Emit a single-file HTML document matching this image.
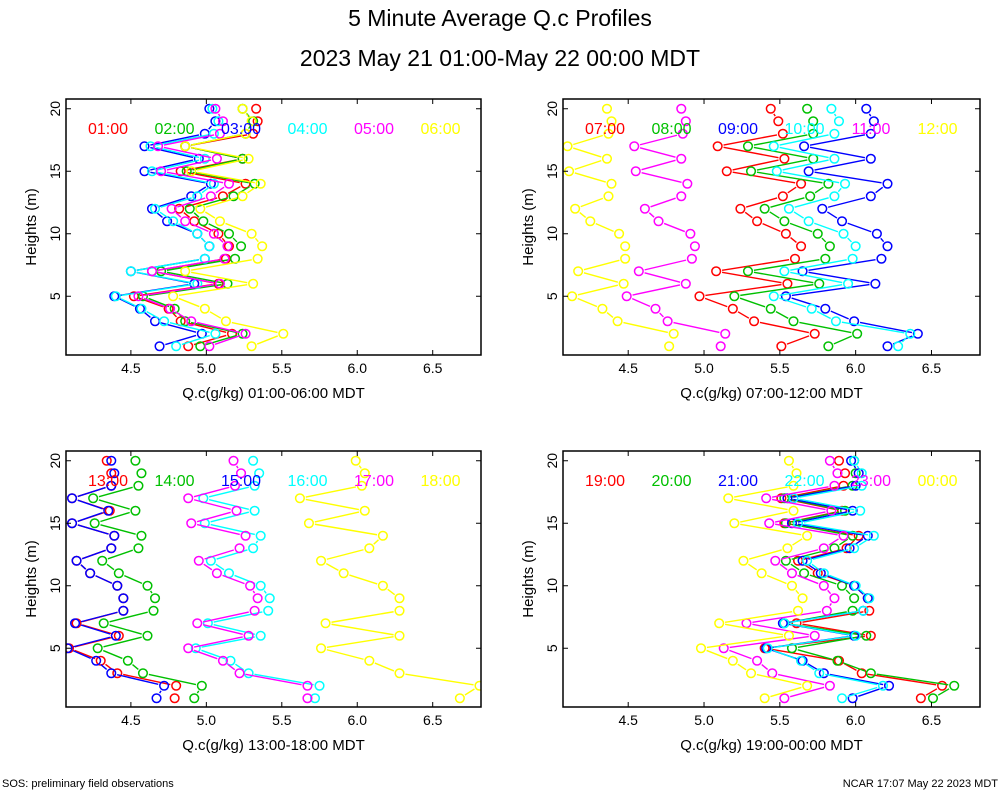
<!DOCTYPE html>
<html><head><meta charset="utf-8"><style>
body{margin:0;background:#fff;width:1000px;height:800px;overflow:hidden;font-family:"Liberation Sans",sans-serif}
svg text{font-family:"Liberation Sans",sans-serif}
</style></head><body>
<svg id="chart" width="1000" height="800" xmlns="http://www.w3.org/2000/svg">
<text x="500" y="26" font-size="23" text-anchor="middle">5 Minute Average Q.c Profiles</text>
<text x="500" y="66" font-size="23" text-anchor="middle">2023 May 21 01:00-May 22 00:00 MDT</text>
<text x="2" y="787" font-size="11">SOS: preliminary field observations</text>
<text x="998" y="787" font-size="11" text-anchor="end">NCAR 17:07 May 22 2023 MDT</text>
</svg>
<script>
const heights=[20,19,18,17,16,15,14,13,12,11,10,9,8,7,6,5,4,3,2,1];
const xTicks=[4.5,5.0,5.5,6.0,6.5];
const yTicks=[5,10,15,20];
const xTickLabels=["4.5","5.0","5.5","6.0","6.5"];
const s0100=[5.33,5.34,5.31,4.86,5.24,4.83,5.26,5.11,4.82,4.92,5.08,5.15,5.13,4.64,5.08,4.52,4.75,4.83,5.17,4.88];
const s0200=[5.24,5.31,5.26,4.86,5.24,4.87,5.32,5.18,4.89,4.98,5.15,5.23,5.19,4.70,5.14,4.58,4.79,4.86,5.24,4.96];
const s0300=[5.02,5.06,4.99,4.59,4.95,4.59,5.03,4.90,4.64,4.74,4.94,5.02,4.99,4.50,4.92,4.39,4.56,4.66,4.97,4.69];
const s0400=[5.04,5.08,5.05,4.63,4.99,4.64,5.05,4.94,4.66,4.78,4.94,5.02,4.99,4.50,4.94,4.40,4.57,4.72,5.06,4.80];
const s0500=[5.06,5.11,5.09,4.68,5.07,4.70,5.15,5.03,4.77,4.86,5.05,5.14,5.12,4.64,5.09,4.55,4.76,4.90,5.26,5.02];
const s0600=[5.24,5.30,5.26,4.86,5.28,4.90,5.36,5.24,4.96,5.09,5.30,5.37,5.34,4.86,5.31,4.78,4.99,5.13,5.51,5.30];
const s0700=[5.44,5.49,5.52,5.09,5.53,5.15,5.64,5.52,5.24,5.35,5.54,5.64,5.60,5.08,5.55,4.97,5.19,5.33,5.73,5.51];
const s0800=[5.68,5.72,5.72,5.29,5.72,5.31,5.82,5.70,5.40,5.53,5.75,5.83,5.80,5.29,5.76,5.20,5.44,5.59,6.01,5.82];
const s0900=[6.07,6.12,6.10,5.66,6.10,5.69,6.21,6.10,5.78,5.91,6.14,6.21,6.17,5.65,6.13,5.54,5.80,5.99,6.41,6.21];
const s1000=[5.84,5.89,5.86,5.46,5.86,5.48,5.93,5.86,5.56,5.69,5.92,6.00,5.98,5.53,5.95,5.46,5.71,5.87,6.36,6.28];
const s1100=[4.85,4.88,4.86,4.54,4.85,4.55,4.89,4.85,4.61,4.70,4.91,4.94,4.92,4.57,4.88,4.49,4.68,4.76,5.14,5.11];
const s1200=[4.36,4.39,4.37,4.10,4.36,4.11,4.39,4.37,4.15,4.25,4.44,4.48,4.48,4.17,4.47,4.13,4.33,4.43,4.80,4.77];
const s1300=[4.34,4.37,4.37,4.11,4.36,4.11,4.39,4.37,4.14,4.23,4.41,4.45,4.45,4.14,4.42,4.09,4.30,4.41,4.80,4.79];
const s1400=[4.53,4.57,4.55,4.25,4.53,4.26,4.57,4.55,4.31,4.42,4.61,4.66,4.65,4.32,4.61,4.28,4.48,4.58,4.97,4.92];
const s1500=[4.37,4.39,4.37,4.11,4.35,4.11,4.39,4.37,4.14,4.23,4.41,4.45,4.45,4.13,4.40,4.08,4.27,4.37,4.72,4.67];
const s1600=[5.31,5.35,5.32,4.98,5.32,4.99,5.36,5.31,5.03,5.15,5.36,5.42,5.41,5.01,5.36,4.93,5.16,5.28,5.75,5.72];
const s1700=[5.18,5.23,5.19,4.88,5.20,4.90,5.26,5.22,4.95,5.07,5.29,5.34,5.32,4.94,5.28,4.88,5.11,5.22,5.67,5.67];
const s1800=[5.99,6.05,6.03,5.62,6.05,5.68,6.17,6.08,5.76,5.91,6.17,6.28,6.28,5.79,6.28,5.76,6.08,6.28,6.81,6.68];
const s1900=[5.89,5.93,5.92,5.51,5.91,5.53,6.02,5.94,5.62,5.75,5.99,6.08,6.09,5.61,6.10,5.40,5.89,6.04,6.57,6.43];
const s2000=[5.99,6.00,5.98,5.53,5.93,5.54,5.98,5.86,5.54,5.66,5.91,5.99,5.98,5.53,6.07,5.58,5.88,6.10,6.65,6.51];
const s2100=[5.97,6.02,6.00,5.55,5.98,5.58,6.08,5.96,5.65,5.77,5.99,6.08,6.05,5.52,5.99,5.41,5.65,5.79,6.22,5.98];
const s2200=[5.99,6.04,6.04,5.59,6.03,5.62,6.12,5.99,5.68,5.79,6.00,6.09,6.05,5.53,6.00,5.42,5.64,5.76,6.18,5.91];
const s2300=[5.83,5.88,5.86,5.41,5.84,5.43,5.92,5.79,5.47,5.58,5.79,5.86,5.81,5.28,5.73,5.13,5.35,5.45,5.83,5.53];
const s0000=[5.56,5.61,5.59,5.16,5.59,5.20,5.68,5.55,5.26,5.38,5.58,5.65,5.62,5.10,5.56,4.98,5.19,5.31,5.68,5.40];
const colors=["#ff0000","#00c000","#0000ff","#00ffff","#ff00ff","#ffff00"];
const panels=[
 {x0:66,x1:481,y0:99,y1:355,title:"Q.c(g/kg) 01:00-06:00 MDT",labels:["01:00","02:00","03:00","04:00","05:00","06:00"],series:[s0100,s0200,s0300,s0400,s0500,s0600]},
 {x0:563,x1:980,y0:99,y1:355,title:"Q.c(g/kg) 07:00-12:00 MDT",labels:["07:00","08:00","09:00","10:00","11:00","12:00"],series:[s0700,s0800,s0900,s1000,s1100,s1200]},
 {x0:66,x1:481,y0:451,y1:707,title:"Q.c(g/kg) 13:00-18:00 MDT",labels:["13:00","14:00","15:00","16:00","17:00","18:00"],series:[s1300,s1400,s1500,s1600,s1700,s1800]},
 {x0:563,x1:980,y0:451,y1:707,title:"Q.c(g/kg) 19:00-00:00 MDT",labels:["19:00","20:00","21:00","22:00","23:00","00:00"],series:[s1900,s2000,s2100,s2200,s2300,s0000]}
];
const NS="http://www.w3.org/2000/svg";
const svg=document.getElementById("chart");
function mk(tag,attrs,parent){const e=document.createElementNS(NS,tag);for(const k in attrs)e.setAttribute(k,attrs[k]);(parent||svg).appendChild(e);return e;}
const XMIN=4.07,XMAX=6.82,YMIN=0.3,YMAX=20.78;
panels.forEach((p,pi)=>{
 const xs=v=>p.x0+(v-XMIN)/(XMAX-XMIN)*(p.x1-p.x0);
 const ys=h=>p.y1-(h-YMIN)/(YMAX-YMIN)*(p.y1-p.y0);
 const g=mk("g",{});
 
 
 const cid="clip"+pi;
 const cp=mk("clipPath",{id:cid},g);
 mk("rect",{x:p.x0,y:p.y0,width:p.x1-p.x0,height:p.y1-p.y0},cp);
 const plot=mk("g",{"clip-path":"url(#"+cid+")"},g);
 p.series.forEach((vals,si)=>{
  const sg=mk("g",{},plot);
  
  
  for(let i=0;i<vals.length-1;i++){
   const ax=xs(vals[i]),ay=ys(heights[i]),bx=xs(vals[i+1]),by=ys(heights[i+1]);
   const dx=bx-ax,dy=by-ay,L=Math.hypot(dx,dy);
   if(L<14)continue;
   const r=6/L;
   const seg=mk("line",{x1:ax+dx*r,y1:ay+dy*r,x2:bx-dx*r,y2:by-dy*r,stroke:colors[si],"stroke-width":1.4},sg);
   
   
  }
  vals.forEach((v,i)=>{
   const c=mk("circle",{cx:xs(v),cy:ys(heights[i]),r:4.3,fill:"none",stroke:colors[si],"stroke-width":1.5},sg);
   
   
  });
 });
 const fr=mk("rect",{x:p.x0,y:p.y0,width:p.x1-p.x0,height:p.y1-p.y0,fill:"none",stroke:"#000","stroke-width":1.5},g);
 
 
 xTicks.forEach((t,i)=>{
  const x=xs(t);
  mk("line",{x1:x,x2:x,y1:p.y1,y2:p.y1-5,stroke:"#000"},g);
  mk("line",{x1:x,x2:x,y1:p.y0,y2:p.y0+5,stroke:"#000"},g);
  const tl=mk("text",{x:x,y:p.y1+18,"font-size":14,"text-anchor":"middle"},g);
  tl.textContent=xTickLabels[i];
  
  
 });
 yTicks.forEach(t=>{
  const y=ys(t);
  mk("line",{x1:p.x0,x2:p.x0+5,y1:y,y2:y,stroke:"#000"},g);
  mk("line",{x1:p.x1,x2:p.x1-5,y1:y,y2:y,stroke:"#000"},g);
  const tl=mk("text",{x:p.x0-6,y:y,"font-size":14,"text-anchor":"middle",transform:`rotate(-90 ${p.x0-6} ${y})`},g);
  tl.textContent=String(t);
  
  
 });
 const xt=mk("text",{x:(p.x0+p.x1)/2,y:p.y1+43,"font-size":15,"text-anchor":"middle"},g);
 xt.textContent=p.title;
 
 
 const yx=p.x0-30,yy=(p.y0+p.y1)/2;
 const yt=mk("text",{x:yx,y:yy,"font-size":15,"text-anchor":"middle",transform:`rotate(-90 ${yx} ${yy})`},g);
 yt.textContent="Heights (m)";
 
 
 p.labels.forEach((lab,si)=>{
  const lx=p.x0+42+si*66.5;
  const le=mk("text",{x:lx,y:p.y0+35,"font-size":16,"text-anchor":"middle",fill:colors[si]},g);
  le.textContent=lab;
  
  
 });
});
</script>
</body></html>
